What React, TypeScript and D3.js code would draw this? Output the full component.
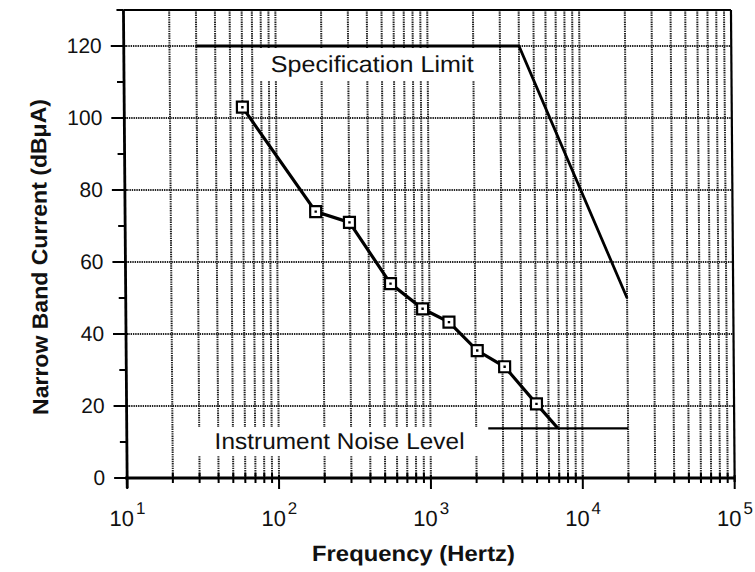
import React from "react";
import * as d3 from "d3";

// ---- data ----
const measuredFreq = [60, 180, 300, 555, 900, 1340, 2050, 3100, 5000];
const measuredDb = [103, 74, 71, 54, 47, 43.3, 35.4, 30.9, 20.6];
const noiseCrossFreq = 6900;
const noiseCrossDb = 13.8;

const specFreq = [30, 4000, 20000];
const specDb = [120, 120, 50];

const noiseFreq = [2400, 20000];
const noiseDb = [13.8, 13.8];

const xDecades = [10, 100, 1000, 10000, 100000];
const xExponents = ["1", "2", "3", "4", "5"];
const yTicks = [0, 20, 40, 60, 80, 100, 120];
const yMinorTicks = [10, 30, 50, 70, 90, 110, 130];

const xTitle = "Frequency (Hertz)";
const yTitle = "Narrow Band Current (dBμA)";
const specLabel = "Specification Limit";
const noiseLabel = "Instrument Noise Level";

// ---- layout ----
const W = 755;
const H = 572;
const left = 125.3;
const right = 732.8;
const top = 10;
const bottom = 478;
const FONT = "'Liberation Sans', Arial, Helvetica, sans-serif";

export default function App() {
  const x = d3.scaleLog().domain([10, 100000]).range([left, right]);
  const y = d3.scaleLinear().domain([0, 130]).range([bottom, top]);

  const gridFreqs: number[] = [];
  [10, 100, 1000, 10000].forEach((d) => {
    for (let k = 2; k <= 10; k++) {
      const f = k * d;
      if (f < 100000) gridFreqs.push(f);
    }
  });
  const minorFreqs = gridFreqs.filter((f) => !xDecades.includes(f));

  const line = d3
    .line<[number, number]>()
    .x((d) => x(d[0]))
    .y((d) => y(d[1]));

  const measuredPts: [number, number][] = measuredFreq.map((f, i) => [f, measuredDb[i]]);
  const measuredLine: [number, number][] = [...measuredPts, [noiseCrossFreq, noiseCrossDb]];
  const specPts: [number, number][] = specFreq.map((f, i) => [f, specDb[i]]);
  const noisePts: [number, number][] = noiseFreq.map((f, i) => [f, noiseDb[i]]);

  const gridStyle = { stroke: "#222", strokeWidth: 2, strokeDasharray: "1.4 0.9" };

  return (
    <svg
      width={W}
      height={H}
      style={{ position: "absolute", left: 0, top: 0, background: "#fff" }}
      fontFamily={FONT}
    >
      <rect x={0} y={0} width={W} height={H} fill="#fff" />
      <g transform="translate(0,244) skewX(0.45) translate(0,-244)">
        {/* horizontal grid */}
        {yTicks
          .filter((t) => t > 0)
          .map((t) => (
            <line key={"hg" + t} x1={left} x2={right} y1={y(t)} y2={y(t)} {...gridStyle} />
          ))}
        {/* vertical grid */}
        {gridFreqs.map((f) => (
          <line key={"vg" + f} x1={x(f)} x2={x(f)} y1={top} y2={bottom} {...gridStyle} />
        ))}
        {/* label background boxes */}
        <rect x={258} y={48} width={232} height={33} fill="#fff" />
        <rect x={188} y={427} width={304} height={29} fill="#fff" />

        {/* frame */}
        <line x1={left} x2={right} y1={top} y2={top} stroke="#000" strokeWidth={2.2} />
        <line x1={right} x2={right} y1={top} y2={bottom + 4} stroke="#000" strokeWidth={2.2} />
        <line x1={left} x2={left} y1={top} y2={bottom + 10} stroke="#000" strokeWidth={2.8} />
        <line x1={left - 2} x2={right} y1={bottom} y2={bottom} stroke="#000" strokeWidth={2.8} />

        {/* y ticks */}
        {yTicks.map((t) => (
          <line key={"yt" + t} x1={left - 13} x2={left + 2} y1={y(t)} y2={y(t)} stroke="#000" strokeWidth={2} />
        ))}
        {yMinorTicks.map((t) => (
          <line key={"ym" + t} x1={left - 7} x2={left} y1={y(t)} y2={y(t)} stroke="#000" strokeWidth={2} />
        ))}
        {yTicks.map((t) => (
          <text
            key={"yl" + t}
            x={left - 22}
            y={y(t) + 7.5}
            textAnchor="end"
            fontSize={21}
            fill="#111"
          >
            {t}
          </text>
        ))}

        {/* x ticks */}
        {xDecades.map((d) => (
          <line key={"xt" + d} x1={x(d)} x2={x(d)} y1={bottom - 3} y2={bottom + 11} stroke="#000" strokeWidth={2} />
        ))}
        {minorFreqs.map((f) => (
          <line key={"xm" + f} x1={x(f)} x2={x(f)} y1={bottom - 5} y2={bottom + 5} stroke="#000" strokeWidth={2} />
        ))}
        {xDecades.map((d, i) => (
          <text key={"xl" + d} x={x(d)} y={526} textAnchor="middle" fontSize={22} fill="#111">
            <tspan>10</tspan>
            <tspan dx={2} dy={-12} fontSize={17}>
              {xExponents[i]}
            </tspan>
          </text>
        ))}

        {/* spec limit */}
        <path d={line(specPts) || ""} fill="none" stroke="#000" strokeWidth={2.8} />
        {/* noise level */}
        <path d={line(noisePts) || ""} fill="none" stroke="#000" strokeWidth={2.2} />
        {/* measured */}
        <path d={line(measuredLine) || ""} fill="none" stroke="#000" strokeWidth={3.2} />
        {measuredPts.map((p, i) => (
          <g key={"m" + i}>
            <rect x={x(p[0]) - 5.5} y={y(p[1]) - 5.5} width={11} height={11} fill="#fff" stroke="#000" strokeWidth={2.2} />
            <rect x={x(p[0]) - 1.2} y={y(p[1]) - 1.2} width={2.4} height={2.4} fill="#000" />
          </g>
        ))}

        {/* annotations */}
        <text x={272} y={72.5} fontSize={23} fill="#111" textLength={203} lengthAdjust="spacingAndGlyphs">
          {specLabel}
        </text>
        <text x={213} y={449} fontSize={23} fill="#111" textLength={250} lengthAdjust="spacingAndGlyphs">
          {noiseLabel}
        </text>

        {/* axis titles */}
        <text
          x={411}
          y={561}
          textAnchor="middle"
          fontSize={22}
          fontWeight="bold"
          fill="#111"
          textLength={203}
          lengthAdjust="spacingAndGlyphs"
        >
          {xTitle}
        </text>
        <text
          transform={`translate(47,257) rotate(-90)`}
          textAnchor="middle"
          fontSize={22}
          fontWeight="bold"
          fill="#111"
          textLength={316}
          lengthAdjust="spacingAndGlyphs"
        >
          {yTitle}
        </text>
      </g>
    </svg>
  );
}
